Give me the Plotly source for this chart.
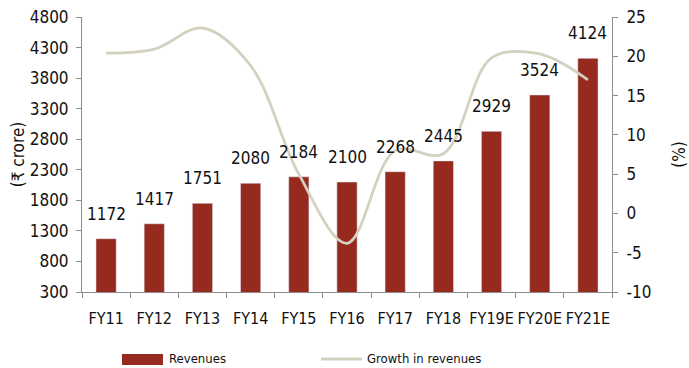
import plotly.graph_objects as go

categories = ["FY11", "FY12", "FY13", "FY14", "FY15", "FY16", "FY17", "FY18", "FY19E", "FY20E", "FY21E"]
revenues = [1172, 1417, 1751, 2080, 2184, 2100, 2268, 2445, 2929, 3524, 4124]
growth = [20.4, 20.9, 23.6, 18.8, 5.0, -3.8, 8.0, 7.6, 19.8, 20.3, 17.0]
left_ticks = [300, 800, 1300, 1800, 2300, 2800, 3300, 3800, 4300, 4800]
right_ticks = [-10, -5, 0, 5, 10, 15, 20, 25]
right_tick_labels = ["-10", "-5", "0", "5", "10", "15", "20", "25"]

FONT = "DejaVu Sans Condensed, Liberation Sans Narrow, sans-serif"
BAR = "#962A1F"
LINE = "#D4D1C0"
AX = "#8C8C8C"
TXT = "#111111"

fig = go.Figure()
fig.add_trace(go.Bar(x=categories, y=revenues, name="Revenues", marker_color=BAR,
                     width=0.42, yaxis="y"))
fig.add_trace(go.Scatter(x=categories, y=growth, name="Growth in revenues", mode="lines",
                         line=dict(color=LINE, width=2.8, shape="spline", smoothing=1.0),
                         yaxis="y2"))

for c, v in zip(categories, revenues):
    fig.add_annotation(x=c, y=v, text=str(v), showarrow=False, yshift=25, yref="y",
                       font=dict(family=FONT, size=17, color=TXT))

# custom legend (matches the wide swatches of the reference)
fig.add_shape(type="rect", xref="paper", yref="paper", x0=0.0755, x1=0.1528,
              y0=-0.2655, y1=-0.2255, fillcolor=BAR, line=dict(width=0))
fig.add_shape(type="line", xref="paper", yref="paper", x0=0.451, x1=0.528,
              y0=-0.2436, y1=-0.2436, line=dict(color=LINE, width=2.8))
fig.add_annotation(xref="paper", yref="paper", x=0.160, y=-0.2436, xanchor="left",
                   yanchor="middle", text="Revenues", showarrow=False,
                   font=dict(family=FONT, size=13, color=TXT))
fig.add_annotation(xref="paper", yref="paper", x=0.534, y=-0.2436, xanchor="left",
                   yanchor="middle", text="Growth in revenues", showarrow=False,
                   font=dict(family=FONT, size=13, color=TXT))

fig.update_layout(
    width=689, height=368,
    margin=dict(l=82, r=77, t=17, b=76, autoexpand=False),
    paper_bgcolor="white", plot_bgcolor="white",
    font=dict(family=FONT, size=16, color=TXT),
    showlegend=False,
    bargap=0.5,
    xaxis=dict(showline=True, linecolor=AX, linewidth=1, ticks="outside", tickson="boundaries",
               ticklen=5, tickcolor=AX, showgrid=False, tickfont=dict(size=16), tickangle=0,
               ticklabelstandoff=12, range=[-0.5, 10.5]),
    yaxis=dict(range=[300, 4800], tickvals=left_ticks, showline=True, linecolor=AX,
               ticks="outside", ticklen=5, tickcolor=AX, showgrid=False, zeroline=False,
               tickfont=dict(size=17), ticklabelstandoff=4,
               title=dict(text="(₹ crore)", font=dict(size=17), standoff=0)),
    yaxis2=dict(range=[-10, 25], tickvals=right_ticks, ticktext=right_tick_labels,
                overlaying="y", side="right",
                showline=True, linecolor=AX, ticks="outside", ticklen=5, tickcolor=AX,
                showgrid=False, zeroline=False, tickfont=dict(size=17), ticklabelstandoff=5,
                title=dict(text="(%)", font=dict(size=17), standoff=22)),
)

fig.write_html("out.html")
